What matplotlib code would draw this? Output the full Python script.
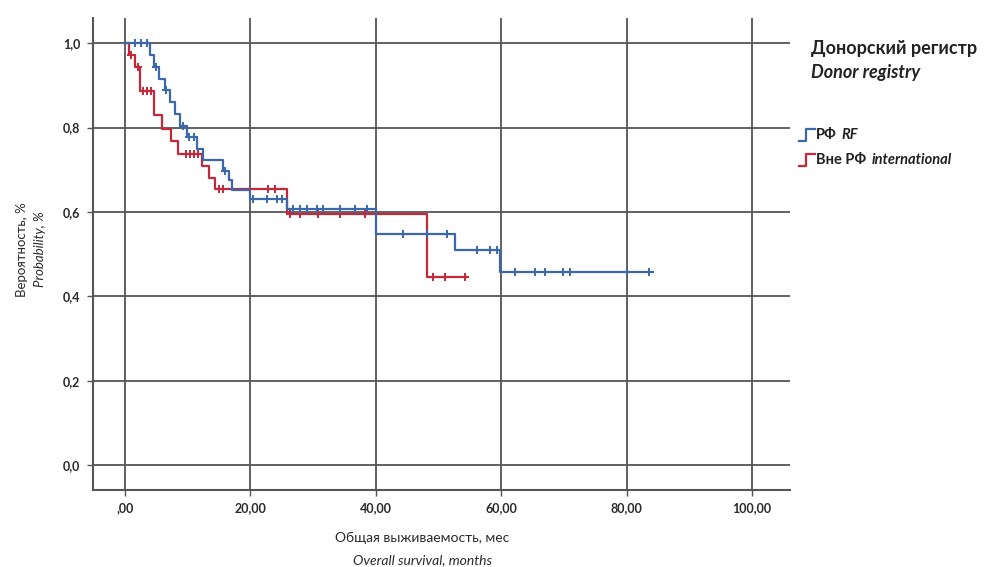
import numpy as np
import matplotlib
matplotlib.use("Agg")
import matplotlib.pyplot as plt
from matplotlib.lines import Line2D

plt.rcParams['font.family'] = ['Lato', 'DejaVu Sans']

# Kaplan-Meier estimates: event times (months) and survival after each event
rf_event_t = [4.0, 4.7, 5.5, 6.3, 7.1, 8.0, 8.8, 9.9, 11.5, 12.4, 15.6, 16.6, 17.1,
              20.0, 25.8, 40.0, 52.7, 59.8]
rf_surv = [0.972, 0.944, 0.916, 0.888, 0.860, 0.832, 0.804, 0.778, 0.750, 0.722,
           0.697, 0.675, 0.652, 0.630, 0.606, 0.548, 0.510, 0.458]
rf_censor_t = [1.6, 2.6, 3.5, 4.9, 6.5, 9.2, 10.2, 11.0, 15.9, 20.4, 22.6, 24.2, 25.0,
               26.8, 27.9, 29.0, 30.6, 31.6, 34.3, 36.7, 38.6, 44.3, 48.2, 51.4,
               56.1, 58.2, 59.3, 62.2, 65.4, 67.0, 69.9, 71.0, 80.1, 83.6]
rf_end = 84.2

intl_event_t = [0.6, 1.6, 2.4, 4.6, 5.9, 7.3, 8.5, 12.3, 13.4, 14.4, 25.8, 48.2]
intl_surv = [0.972, 0.944, 0.886, 0.830, 0.797, 0.767, 0.737, 0.708, 0.680, 0.654,
             0.595, 0.446]
intl_censor_t = [1.0, 2.0, 2.9, 3.5, 4.1, 9.8, 10.4, 11.0, 11.6, 15.0, 15.7, 22.8, 23.9,
                 26.3, 27.9, 30.8, 34.3, 38.3, 49.1, 51.0, 54.2]
intl_end = 54.5

x_ticks = [0, 20, 40, 60, 80, 100]
x_tick_labels = [",00", "20,00", "40,00", "60,00", "80,00", "100,00"]
y_ticks = [0.0, 0.2, 0.4, 0.6, 0.8, 1.0]
y_tick_labels = ["0,0", "0,2", "0,4", "0,6", "0,8", "1,0"]

rf_color = "#3b67ad"
intl_color = "#c4283a"
grid_color = "#555555"
text_color = "#2a2a2a"

fig = plt.figure(figsize=(9.94, 5.67), dpi=100)
ax = fig.add_axes([0.0936, 0.1358, 0.7014, 0.832])


def km_curve(ax, ev_t, surv, cens_t, end, color):
    t = np.concatenate([[0.0], ev_t, [end]])
    s = np.concatenate([[1.0], surv, [surv[-1]]])
    ax.step(t, s, where='post', color=color, lw=1.6, zorder=3)
    idx = np.searchsorted(t, cens_t, side='right') - 1
    ax.plot(cens_t, s[idx], ls='none', marker='+', ms=6, mew=1.4,
            color=color, zorder=4)


km_curve(ax, intl_event_t, intl_surv, intl_censor_t, intl_end, intl_color)
km_curve(ax, rf_event_t, rf_surv, rf_censor_t, rf_end, rf_color)

ax.set_xlim(-5.1, 106.1)
ax.set_ylim(-0.059, 1.059)
ax.set_xticks(x_ticks)
ax.set_xticklabels(x_tick_labels, fontsize=9, fontweight='bold', color=text_color)
ax.set_yticks(y_ticks)
ax.set_yticklabels(y_tick_labels, fontsize=9, fontweight='bold', color=text_color)
ax.grid(True, color=grid_color, lw=1.3, zorder=1)
ax.set_axisbelow(True)
for side in ('top', 'right'):
    ax.spines[side].set_visible(False)
for side in ('left', 'bottom'):
    ax.spines[side].set_color(grid_color)
    ax.spines[side].set_linewidth(1.5)
ax.tick_params(axis='both', length=4, width=1.0, color=grid_color, pad=5)

# axis titles in two languages
fig.text(0.022, 0.56, "Вероятность, %", rotation=90, ha='center', va='center',
         fontsize=9.5, color=text_color)
fig.text(0.040, 0.56, "Probability, %", rotation=90, ha='center', va='center',
         fontsize=9.5, style='italic', color=text_color)
fig.text(0.425, 0.052, "Общая выживаемость, мес", ha='center', va='center',
         fontsize=10, color=text_color)
fig.text(0.425, 0.012, "Overall survival, months", ha='center', va='center',
         fontsize=10, style='italic', color=text_color)

# legend
fig.text(0.816, 0.915, "Донорский регистр", ha='left', va='center',
         fontsize=13, fontweight='bold', color='#222222')
fig.text(0.816, 0.873, "Donor registry", ha='left', va='center',
         fontsize=13, fontweight='bold', style='italic', color='#222222')

renderer = fig.canvas.get_renderer()


def step_icon(x0, y0, color):
    w, h = 0.016, 0.022
    xs = [x0, x0 + w * 0.45, x0 + w * 0.45, x0 + w]
    ys = [y0 - h / 2, y0 - h / 2, y0 + h / 2, y0 + h / 2]
    fig.add_artist(Line2D(xs, ys, transform=fig.transFigure, color=color, lw=1.6))


def legend_entry(y, upright, italic, color):
    step_icon(0.804, y, color)
    t1 = fig.text(0.821, y, upright, ha='left', va='center', fontsize=10.5,
                  fontweight='bold', color='#222222')
    bb = t1.get_window_extent(renderer).transformed(fig.transFigure.inverted())
    fig.text(bb.x1 + 0.005, y, italic, ha='left', va='center', fontsize=10.5,
             fontweight='bold', style='italic', color='#222222')


legend_entry(0.762, "РФ", "RF", rf_color)
legend_entry(0.718, "Вне РФ", "international", intl_color)

fig.savefig("out.png", dpi=100)
